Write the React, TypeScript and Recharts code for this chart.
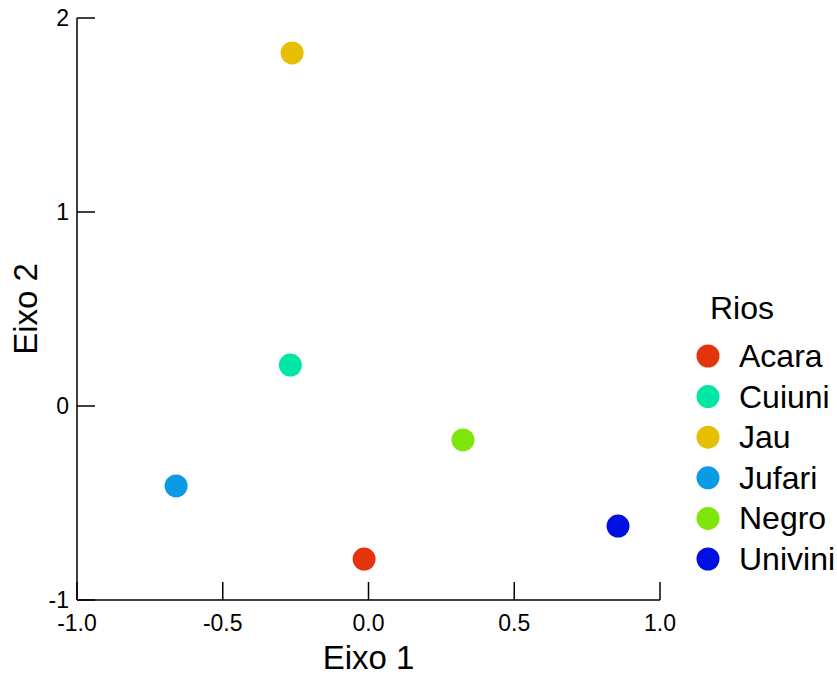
import React from 'react';
import { ScatterChart, Scatter, XAxis, YAxis, Label } from 'recharts';

const rivers = ['Acara', 'Cuiuni', 'Jau', 'Jufari', 'Negro', 'Univini'];
const eixo1 = [-0.015, -0.268, -0.262, -0.66, 0.324, 0.856];
const eixo2 = [-0.789, 0.211, 1.82, -0.412, -0.175, -0.619];
const colors = ['#E5330E', '#00E6A4', '#E6BF00', '#0A9BE4', '#7EE60A', '#0010E2'];
const xTicks = [-1, -0.5, 0, 0.5, 1];
const yTicks = [-1, 0, 1, 2];

const FONT = '"Liberation Sans", Arial, sans-serif';

const XTick = (props: any) => {
  const { x, y, payload } = props;
  return (
    <g>
      <line x1={x} y1={y} x2={x} y2={y - 18} stroke="#000" strokeWidth={1.5} />
      <text x={x} y={y + 31} textAnchor="middle" fontSize={23} fontFamily={FONT} fill="#000">
        {payload.value.toFixed(1)}
      </text>
    </g>
  );
};

const YTick = (props: any) => {
  const { x, y, payload } = props;
  return (
    <g>
      <line x1={x} y1={y} x2={x + 18} y2={y} stroke="#000" strokeWidth={1.5} />
      <text x={x - 8} y={y + 8} textAnchor="end" fontSize={23} fontFamily={FONT} fill="#000">
        {payload.value}
      </text>
    </g>
  );
};

// legend kept outside the chart so it doesn't eat plot space
const RiosLegend = () => (
  <svg width={147} height={300} style={{ position: 'absolute', left: 690, top: 280 }}>
    <text x={20} y={39} fontSize={32} fontFamily={FONT} fill="#000">Rios</text>
    {rivers.map((river, i) => {
      const cy = 76 + i * 40.6;
      return (
        <g key={river}>
          <circle cx={18} cy={cy} r={11.5} fill={colors[i]} />
          <text x={49} y={cy + 11} fontSize={32} fontFamily={FONT} fill="#000">{river}</text>
        </g>
      );
    })}
  </svg>
);

export default function App() {
  return (
    <div style={{ position: 'absolute', left: 0, top: 0, width: 837, height: 675, background: '#fff' }}>
      <ScatterChart width={837} height={675} margin={{ top: 18, right: 177, bottom: 0, left: 0 }}>
        <XAxis
          type="number"
          dataKey="x"
          domain={[-1, 1]}
          ticks={xTicks}
          height={75}
          tickSize={0}
          tickMargin={0}
          tick={<XTick />}
          axisLine={{ stroke: '#000', strokeWidth: 1.5 }}
          tickLine={false}
          allowDataOverflow
        >
          <Label
            content={(p: any) => (
              <text
                x={p.viewBox.x + p.viewBox.width / 2}
                y={p.viewBox.y + 69}
                textAnchor="middle"
                fontSize={33}
                fontFamily={FONT}
                fill="#000"
              >
                Eixo 1
              </text>
            )}
          />
        </XAxis>
        <YAxis
          type="number"
          dataKey="y"
          domain={[-1, 2]}
          ticks={yTicks}
          width={77}
          tickSize={0}
          tickMargin={0}
          tick={<YTick />}
          axisLine={{ stroke: '#000', strokeWidth: 1.5 }}
          tickLine={false}
          allowDataOverflow
        >
          <Label
            content={(p: any) => {
              const cx = 37;
              const cy = p.viewBox.y + p.viewBox.height / 2;
              return (
                <text
                  x={cx}
                  y={cy}
                  transform={`rotate(-90 ${cx} ${cy})`}
                  textAnchor="middle"
                  fontSize={33}
                  fontFamily={FONT}
                  fill="#000"
                >
                  Eixo 2
                </text>
              );
            }}
          />
        </YAxis>
        {rivers.map((river, i) => (
          <Scatter
            key={river}
            name={river}
            data={[{ x: eixo1[i], y: eixo2[i] }]}
            fill={colors[i]}
            isAnimationActive={false}
            shape={(p: any) => <circle cx={p.cx} cy={p.cy} r={11.5} fill={colors[i]} />}
          />
        ))}
      </ScatterChart>
      <RiosLegend />
    </div>
  );
}
